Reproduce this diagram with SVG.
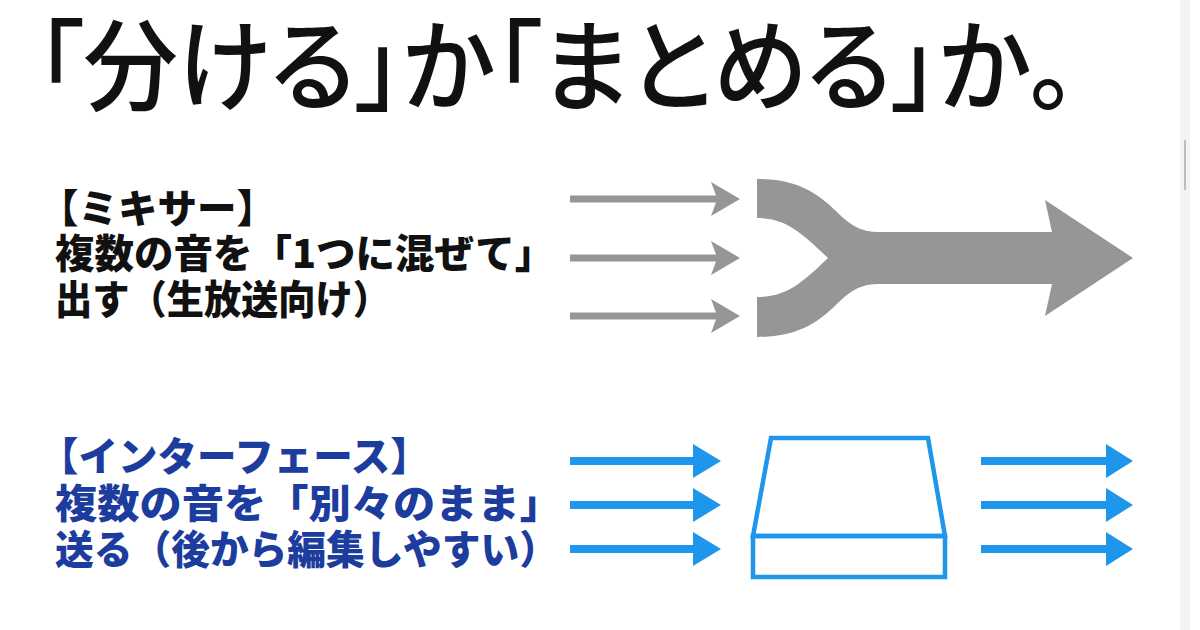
<svg xmlns="http://www.w3.org/2000/svg" width="1200" height="630" viewBox="0 0 1200 630">
<style>
.title{font-family:"Noto Sans CJK JP","Noto Sans CJK SC",sans-serif;font-weight:500;font-size:100px;fill:#111;font-feature-settings:"palt"}
.lbl{font-family:"Noto Sans CJK JP","Noto Sans CJK SC",sans-serif;font-weight:900;font-size:39.5px}
.mix{fill:#111}
.ifc{fill:#1c3c9e}
.gray{fill:#969696}
.blue{fill:#1e96eb}
.box{fill:none;stroke:#1e96eb;stroke-width:4.5;stroke-linejoin:miter}
</style>
<defs>
<path id="garrow" d="M570,-3.5 L716,-3.5 L711,-17 L740,0 L711,17 L716,3.5 L570,3.5 Z"/>
<path id="barrowL" d="M570,-4 L693,-4 L693,-17 L721,0 L693,17 L693,4 L570,4 Z"/>
<path id="barrowR" d="M981,-4 L1106,-4 L1106,-17 L1133,0 L1106,17 L1106,4 L981,4 Z"/>
</defs>
<rect width="1200" height="630" fill="#fff"/>
<rect x="1180" y="0" width="10" height="630" fill="#f3f3f3"/>
<rect x="1184" y="140" width="2" height="50" fill="#bdbdbd"/>

<g id="title">
<text class="title" x="36" y="103" textLength="1040" lengthAdjust="spacingAndGlyphs">「分ける」か「まとめる」か。</text>
</g>

<g id="mixer-label">
<text class="lbl mix" x="39" y="223">【ミキサー】</text>
<text class="lbl mix" x="55" y="268">複数の音を「1つに混ぜて」</text>
<text class="lbl mix" x="55" y="314" textLength="335" lengthAdjust="spacingAndGlyphs">出す（生放送向け）</text>
</g>

<g id="interface-label">
<text class="lbl ifc" x="39" y="471">【インターフェース】</text>
<text class="lbl ifc" x="55" y="518" textLength="507" lengthAdjust="spacingAndGlyphs">複数の音を「別々のまま」</text>
<text class="lbl ifc" x="55" y="564" textLength="503" lengthAdjust="spacingAndGlyphs">送る（後から編集しやすい）</text>
</g>

<g id="mixer-merge">
<path class="gray" d="M757,179 C800,179 820,195 840,215 C855,229 865,232 880,232 L1052,232 L1045,200 L1133,258 L1045,316 L1052,284 L880,284 C865,284 855,287 840,301 C820,321 800,337 757,337 L757,297 C785,297 800,285 828,258 C800,231 785,218 757,218 Z"/>
</g>

<g id="interface-box">
<path class="box" d="M771,438 L928,438 L945,536 L753,536 Z"/>
<rect class="box" x="753" y="536" width="192" height="41"/>
</g>

<g id="connectors">
<use href="#garrow" class="gray" transform="translate(0,199)"/>
<use href="#garrow" class="gray" transform="translate(0,258)"/>
<use href="#garrow" class="gray" transform="translate(0,316)"/>
<use href="#barrowL" class="blue" transform="translate(0,461)"/>
<use href="#barrowL" class="blue" transform="translate(0,505)"/>
<use href="#barrowL" class="blue" transform="translate(0,549)"/>
<use href="#barrowR" class="blue" transform="translate(0,461)"/>
<use href="#barrowR" class="blue" transform="translate(0,505)"/>
<use href="#barrowR" class="blue" transform="translate(0,549)"/>
</g>
</svg>
